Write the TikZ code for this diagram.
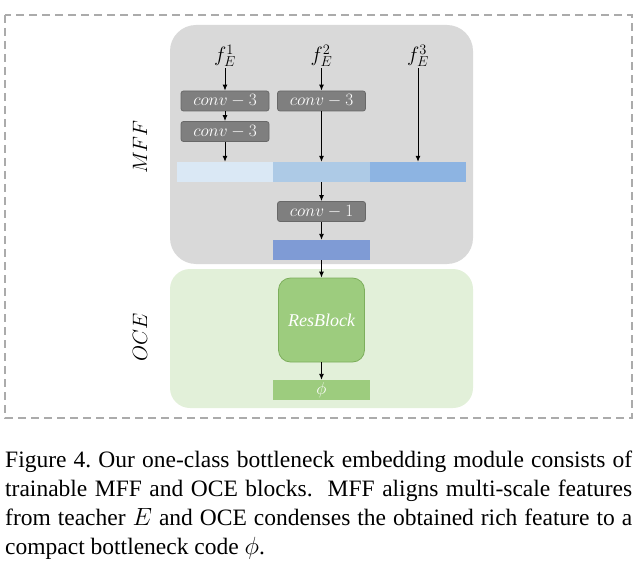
\documentclass[tikz,border=0pt]{standalone}
\usepackage{fontspec}
\setmainfont{Liberation Serif}
\usetikzlibrary{arrows.meta}
\definecolor{mffgray}{HTML}{D9D9D9}
\definecolor{convgray}{HTML}{7F7F7F}
\definecolor{convedge}{HTML}{686868}
\definecolor{featA}{HTML}{DAE8F5}
\definecolor{featB}{HTML}{ADCAE6}
\definecolor{featC}{HTML}{8DB4E2}
\definecolor{fused}{HTML}{7F9BD5}
\definecolor{ocegreen}{HTML}{E2F0D9}
\definecolor{resgreen}{HTML}{9DCC7E}
\definecolor{resedge}{HTML}{7DAE5C}
\definecolor{framegray}{HTML}{ABABAB}
\tikzset{
  convbox/.style={draw=convedge,fill=convgray,rounded corners=2.5pt,line width=.8pt,
    minimum width=88pt,minimum height=20pt,inner sep=0pt,text=white,
    font=\fontsize{18}{18}\selectfont},
  featbar/.style={minimum width=96.5pt,minimum height=20pt,inner sep=0pt},
  resbox/.style={draw=resedge,fill=resgreen,rounded corners=12pt,line width=.8pt,
    minimum width=86pt,minimum height=84pt,inner sep=0pt,text=white,
    font=\fontsize{18}{18}\selectfont},
  flow/.style={-{Latex[length=6pt,width=5pt]},line width=.9pt},
}
\begin{document}
\begin{tikzpicture}[x=1pt,y=-1pt,font=\fontsize{21}{21}\selectfont]
  \useasboundingbox (0,0) rectangle (637,564);
  \draw[framegray,line width=1.2pt,dash pattern=on 8pt off 5pt] (5,15) rectangle (632,418);
  % panels
  \fill[mffgray,rounded corners=26pt] (170,25) rectangle (473,264);
  \fill[ocegreen,rounded corners=20pt] (170,269) rectangle (473,408);
  \node[rotate=90] (mff) at (140,147) {$MFF$};
  \node[rotate=90] (oce) at (140,337) {$OCE$};
  % inputs
  \node[inner sep=1pt] (f1) at (225,56) {$f_E^1$};
  \node[inner sep=1pt] (f2) at (321.5,56) {$f_E^2$};
  \node[inner sep=1pt] (f3) at (418,56) {$f_E^3$};
  \node[convbox] (c11) at (225,101) {$conv-3$};
  \node[convbox] (c12) at (225,131.5) {$conv-3$};
  \node[convbox] (c21) at (321.5,101) {$conv-3$};
  \node[featbar,fill=featA] (b1) at (225,172) {};
  \node[featbar,fill=featB] (b2) at (321.5,172) {};
  \node[featbar,fill=featC] (b3) at (418,172) {};
  \node[convbox] (c3) at (321.5,211.5) {$conv-1$};
  \node[featbar,fill=fused] (fu) at (321.5,250) {};
  \node[resbox] (res) at (321.5,320) {$\mathit{ResBlock}$};
  \node[featbar,fill=resgreen,text=white,font=\fontsize{18}{18}\selectfont] (phi) at (321.5,390) {$\phi$};
  % connections
  \draw[flow] (f1) -- (c11);
  \draw[flow] (c11) -- (c12);
  \draw[flow] (c12) -- (b1);
  \draw[flow] (f2) -- (c21);
  \draw[flow] (c21) -- (b2);
  \draw[flow] (f3) -- (b3);
  \draw[flow] (b2) -- (c3);
  \draw[flow] (c3) -- (fu);
  \draw[flow] (fu) -- (res);
  \draw[flow] (res) -- (phi);
  % caption
  \node[anchor=north west,text width=627pt,align=justify,inner sep=0pt,
    font=\fontsize{23.5}{29}\selectfont\frenchspacing] (cap) at (5,451)
    {Figure 4. Our one-class bottleneck embedding module consists of\linebreak
     trainable MFF and OCE blocks.\ \ MFF aligns multi-scale features\linebreak
     from teacher $E$ and OCE condenses the obtained rich feature to a\linebreak
     compact bottleneck code $\phi$.};
\end{tikzpicture}
\end{document}
